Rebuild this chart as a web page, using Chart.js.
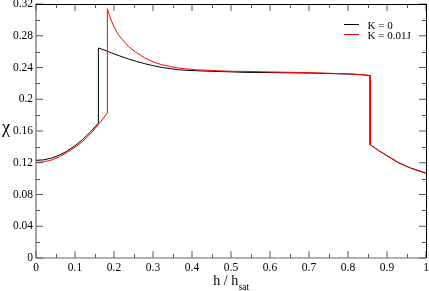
<!DOCTYPE html>
<html><head><meta charset="utf-8">
<script src="https://cdn.jsdelivr.net/npm/chart.js@4/dist/chart.umd.min.js"></script>
<style>html,body{margin:0;padding:0;background:#fff;}canvas{display:block}</style>
</head><body>
<canvas id="c" width="429" height="291"></canvas>
<script>
// ---- data ----
const seriesLabels = ['K = 0', 'K = 0.01J'];
const hK0 = [0, 0.02, 0.04, 0.06, 0.08, 0.10, 0.12, 0.14, 0.16, 0.16, 0.18, 0.194, 0.215, 0.237, 0.258, 0.279, 0.30, 0.322, 0.345, 0.365, 0.385, 0.408, 0.45, 0.50, 0.536, 0.60, 0.70, 0.80, 0.84, 0.857, 0.857, 0.88, 0.90, 0.93, 0.96, 1.0];
const chiK0 = [0.123, 0.1237, 0.1259, 0.1296, 0.1348, 0.1414, 0.1495, 0.159, 0.170, 0.2646, 0.2612, 0.2583, 0.2545, 0.2507, 0.2476, 0.2448, 0.2423, 0.2401, 0.2385, 0.2372, 0.2365, 0.236, 0.2352, 0.2345, 0.2339, 0.2336, 0.233, 0.2318, 0.2308, 0.2297, 0.1427, 0.135, 0.129, 0.120, 0.1135, 0.107];
const hK1 = [0, 0.02, 0.04, 0.06, 0.08, 0.10, 0.12, 0.14, 0.16, 0.183, 0.183, 0.188, 0.194, 0.202, 0.211, 0.222, 0.237, 0.255, 0.279, 0.30, 0.322, 0.345, 0.365, 0.385, 0.408, 0.45, 0.50, 0.536, 0.60, 0.70, 0.80, 0.84, 0.857, 0.857, 0.88, 0.90, 0.93, 0.96, 1.0];
const chiK1 = [0.1205, 0.1212, 0.1235, 0.1275, 0.133, 0.1395, 0.147, 0.1565, 0.168, 0.1827, 0.314, 0.3065, 0.298, 0.2895, 0.2813, 0.275, 0.2666, 0.2595, 0.252, 0.2473, 0.2435, 0.2412, 0.2394, 0.2382, 0.2372, 0.2362, 0.2352, 0.2351, 0.2344, 0.2335, 0.232, 0.2308, 0.2297, 0.1427, 0.1348, 0.1288, 0.1198, 0.1132, 0.1067];

const xTicks = [0, 0.1, 0.2, 0.3, 0.4, 0.5, 0.6, 0.7, 0.8, 0.9, 1];
const xTickLabels = ['0', '0.1', '0.2', '0.3', '0.4', '0.5', '0.6', '0.7', '0.8', '0.9', '1'];
const xMinorTicks = [0.05, 0.15, 0.25, 0.35, 0.45, 0.55, 0.65, 0.75, 0.85, 0.95];
const yTicks = [0, 0.04, 0.08, 0.12, 0.16, 0.2, 0.24, 0.28, 0.32];
const yTickLabels = ['0', '0.04', '0.08', '0.12', '0.16', '0.2', '0.24', '0.28', '0.32'];
const yMinorTicks = [0.02, 0.06, 0.10, 0.14, 0.18, 0.22, 0.26, 0.30];
const xTitleMain = 'h / h';
const xTitleSub = 'sat';
const yTitle = 'χ';

const SERIF = '"Liberation Serif", "DejaVu Serif", serif';
const colors = ['#000000', '#ff0000'];

const toPts = (xs, ys) => xs.map((v, i) => ({x: v, y: ys[i]}));

const deco = {
  id: 'deco',
  afterDatasetsDraw(chart) {
    const {ctx, chartArea: a, scales: {x, y}} = chart;
    ctx.save();
    const line = (x1, y1, x2, y2) => { ctx.beginPath(); ctx.moveTo(x1, y1); ctx.lineTo(x2, y2); ctx.stroke(); };
    // ticks (inward, on all four sides)
    ctx.strokeStyle = '#555'; ctx.lineWidth = 1;
    xTicks.forEach(v => { const p = x.getPixelForValue(v); line(p, a.bottom, p, a.bottom - 7); line(p, a.top, p, a.top + 7); });
    xMinorTicks.forEach(v => { const p = Math.round(x.getPixelForValue(v)) + 0.5; line(p, a.bottom, p, a.bottom - 4); line(p, a.top, p, a.top + 4); });
    yTicks.forEach(v => { const p = y.getPixelForValue(v); line(a.left, p, a.left + 7, p); line(a.right, p, a.right - 7, p); });
    yMinorTicks.forEach(v => { const p = Math.round(y.getPixelForValue(v)) + 0.5; line(a.left, p, a.left + 4, p); line(a.right, p, a.right - 4, p); });
    // frame
    ctx.strokeStyle = '#666'; ctx.lineWidth = 1.2;
    line(a.left, a.top, a.left, a.bottom);
    line(a.left, a.bottom, a.right, a.bottom);
    ctx.strokeStyle = '#000'; ctx.lineWidth = 1;
    line(a.left, a.top + 0.5, a.right + 0.5, a.top + 0.5);
    line(a.right + 0.5, a.top, a.right + 0.5, a.bottom);
    // legend
    ctx.font = '11px ' + SERIF;
    ctx.textBaseline = 'alphabetic'; ctx.textAlign = 'left';
    chart.data.datasets.forEach((ds, i) => {
      const ly = 24.5 + i * 10;
      ctx.strokeStyle = ds.borderColor; ctx.lineWidth = 1;
      line(344, ly, 359, ly);
      ctx.fillStyle = '#000';
      ctx.fillText(ds.label, 367.5, ly + 4);
    });
    // x title with subscript
    ctx.fillStyle = '#000';
    ctx.font = '14px ' + SERIF;
    const wMain = ctx.measureText(xTitleMain).width;
    ctx.font = '9.5px ' + SERIF;
    const wSub = ctx.measureText(xTitleSub).width;
    const cx = (a.left + a.right) / 2;
    const x0 = cx - (wMain + wSub) / 2;
    ctx.font = '14px ' + SERIF;
    ctx.fillText(xTitleMain, x0, 285);
    ctx.font = '9.5px ' + SERIF;
    ctx.fillText(xTitleSub, x0 + wMain + 0.5, 289.5);
    // y title
    ctx.font = '18px ' + SERIF;
    ctx.textAlign = 'center';
    ctx.fillText(yTitle, 6, 133);
    ctx.restore();
  }
};

new Chart(document.getElementById('c'), {
  type: 'scatter',
  data: {
    datasets: [
      {label: seriesLabels[0], data: toPts(hK0, chiK0), borderColor: colors[0], backgroundColor: colors[0], showLine: true, borderWidth: 1, pointRadius: 0, tension: 0, order: 1},
      {label: seriesLabels[1], data: toPts(hK1, chiK1), borderColor: colors[1], backgroundColor: colors[1], showLine: true, borderWidth: 1, pointRadius: 0, tension: 0, order: 0}
    ]
  },
  options: {
    responsive: false,
    animation: false,
    devicePixelRatio: 1,
    layout: {padding: {top: 4, right: 3, left: 0, bottom: 0}},
    plugins: {legend: {display: false}, tooltip: {enabled: false}},
    scales: {
      x: {
        type: 'linear', min: 0, max: 1,
        grid: {display: false, drawTicks: false}, border: {display: false},
        afterBuildTicks: s => { s.ticks = xTicks.map(v => ({value: v})); },
        ticks: {font: {family: SERIF, size: 11.5}, color: '#000', padding: 3, maxRotation: 0, autoSkip: false,
          callback: (v, i) => xTickLabels[i]},
        afterFit: s => { s.height = 33; s.paddingLeft = 0; s.paddingRight = 0; }
      },
      y: {
        type: 'linear', min: 0, max: 0.32,
        grid: {display: false, drawTicks: false}, border: {display: false},
        afterBuildTicks: s => { s.ticks = yTicks.map(v => ({value: v})); },
        ticks: {font: {family: SERIF, size: 11.5}, color: '#000', padding: 3, autoSkip: false,
          callback: (v, i) => yTickLabels[i]},
        afterFit: s => { s.width = 36; s.paddingTop = 0; s.paddingBottom = 0; }
      }
    }
  },
  plugins: [deco]
});
</script>
</body></html>
